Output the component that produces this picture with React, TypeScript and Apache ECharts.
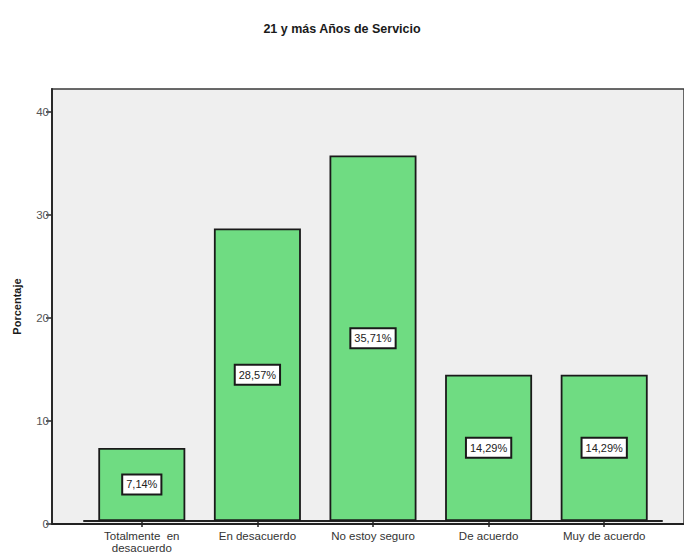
import React, { useEffect, useRef } from "react";
import * as echarts from "echarts";

const titleText = "21 y más Años de Servicio";
const categories = [
  "Totalmente  en\ndesacuerdo",
  "En desacuerdo",
  "No estoy seguro",
  "De acuerdo",
  "Muy de acuerdo",
];
const percentages = [7.14, 28.57, 35.71, 14.29, 14.29];
const yTicks = [0, 10, 20, 30, 40];
const yAxisName = "Porcentaje";

const FONT = "'Liberation Sans', Arial, sans-serif";
const Y_MAX = 42.2;

export default function App() {
  const ref = useRef<HTMLDivElement>(null);
  useEffect(() => {
    if (!ref.current) return;
    const chart = echarts.init(ref.current, null, { renderer: "svg" });
    chart.setOption({
      animation: false,
      textStyle: { fontFamily: FONT },
      title: {
        text: titleText,
        left: "center",
        top: 17,
        textStyle: { fontFamily: FONT, fontSize: 12.5, fontWeight: "bold", color: "#1a1a1a" },
      },
      grid: [
        {
          left: 52,
          top: 89,
          bottom: 30,
          width: 660,
          show: true,
          backgroundColor: "#efefef",
          borderColor: "#3a3a3a",
          borderWidth: 1.5,
        },
        { left: 84, right: 22, top: 89, bottom: 30 },
      ],
      xAxis: [
        {
          type: "value",
          gridIndex: 0,
          min: 0,
          max: 1,
          axisLine: { show: true, lineStyle: { color: "#222", width: 2 } },
          axisTick: { show: false },
          axisLabel: { show: false },
          splitLine: { show: false },
        },
        {
          type: "category",
          gridIndex: 1,
          data: categories,
          boundaryGap: true,
          axisLine: { show: true, lineStyle: { color: "#222", width: 2 } },
          axisTick: { show: true, alignWithLabel: true, length: 6, lineStyle: { color: "#222", width: 1.5 } },
          axisLabel: {
            color: "#333",
            fontSize: 11.5,
            fontFamily: FONT,
            margin: 9,
            lineHeight: 12,
            interval: 0,
          },
        },
      ],
      yAxis: [
        {
          type: "value",
          gridIndex: 0,
          min: 0,
          max: Y_MAX,
          name: yAxisName,
          nameLocation: "middle",
          nameGap: 30,
          nameTextStyle: { fontFamily: FONT, fontSize: 11, fontWeight: "bold", color: "#1a1a1a" },
          axisLine: { show: true, lineStyle: { color: "#2a2a2a", width: 2 } },
          axisTick: { show: true, length: 6, customValues: yTicks, lineStyle: { color: "#2a2a2a", width: 1.5 } },
          axisLabel: { color: "#555", fontSize: 11.5, fontFamily: FONT, margin: 3, customValues: yTicks },
          splitLine: { show: false },
        },
        {
          type: "value",
          gridIndex: 1,
          min: 0,
          max: Y_MAX,
          show: false,
          splitLine: { show: false },
        },
      ],
      series: [
        {
          type: "bar",
          xAxisIndex: 1,
          yAxisIndex: 1,
          data: percentages,
          barWidth: 87,
          itemStyle: { color: "#6fdc82", borderColor: "#1a1a1a", borderWidth: 1.8 },
          label: {
            show: true,
            position: "inside",
            formatter: (p: any) => p.value.toFixed(2).replace(".", ",") + "%",
            color: "#222",
            fontSize: 11,
            fontFamily: FONT,
            backgroundColor: "#fff",
            borderColor: "#1a1a1a",
            borderWidth: 2,
            padding: [4, 3, 3, 3],
          },
        },
      ],
    });
    return () => chart.dispose();
  }, []);
  return (
    <div
      ref={ref}
      style={{ position: "fixed", left: 0, top: 0, width: 684, height: 554, background: "#fff" }}
    />
  );
}
